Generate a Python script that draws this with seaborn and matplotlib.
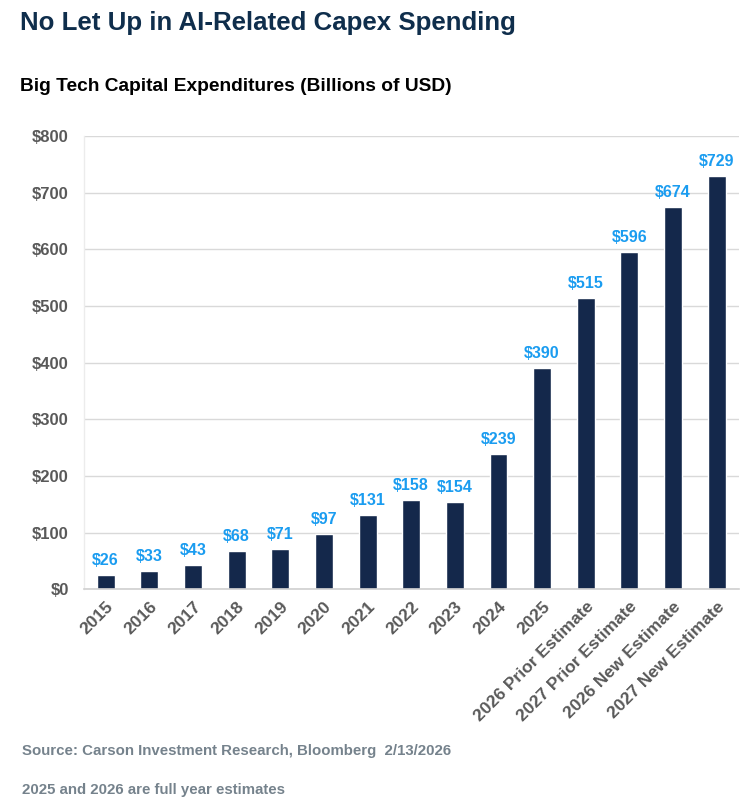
import matplotlib
matplotlib.use("Agg")
import matplotlib.pyplot as plt
import seaborn as sns
import pandas as pd

# Data
categories = ["2015", "2016", "2017", "2018", "2019", "2020", "2021", "2022",
              "2023", "2024", "2025", "2026 Prior Estimate", "2027 Prior Estimate",
              "2026 New Estimate", "2027 New Estimate"]
capex = [26, 33, 43, 68, 71, 97, 131, 158, 154, 239, 390, 515, 596, 674, 729]
y_ticks = [0, 100, 200, 300, 400, 500, 600, 700, 800]

BAR_COLOR = "#14284b"
LABEL_COLOR = "#1a9cf0"
TITLE_COLOR = "#0f2e4c"
TICK_COLOR = "#595959"
NOTE_COLOR = "#75828c"

sns.set_theme(style="white")
plt.rcParams['font.family'] = ['Liberation Sans', 'DejaVu Sans']

df = pd.DataFrame({"category": categories, "capex": capex})

fig = plt.figure(figsize=(7.49, 8.05), dpi=100)
ax = fig.add_axes([0.112, 0.268, 0.874, 0.563])

sns.barplot(data=df, x="category", y="capex", color=BAR_COLOR, width=0.41,
            saturation=1, ax=ax)

for i, v in enumerate(capex):
    ax.annotate(f"${v}", (i, v), xytext=(0, 5), textcoords="offset points",
                ha="center", va="bottom", fontsize=11.5, fontweight="bold",
                color=LABEL_COLOR)

ax.set_ylim(0, 800)
ax.set_xlim(-0.5, len(categories) - 0.5)
ax.set_yticks(y_ticks)
ax.set_yticklabels([f"${t}" for t in y_ticks])
ax.yaxis.grid(True, color="#d9d9d9", linewidth=1)
ax.set_axisbelow(True)
ax.set_xlabel("")
ax.set_ylabel("")

for side in ["top", "right"]:
    ax.spines[side].set_visible(False)
ax.spines["left"].set_color("#ececec")
ax.spines["bottom"].set_color("#d0d0d0")
ax.spines["left"].set_linewidth(1)
ax.spines["bottom"].set_linewidth(1.2)

ax.tick_params(axis="x", length=0, pad=7)
ax.tick_params(axis="y", length=0, pad=11)
for lbl in ax.get_yticklabels():
    lbl.set_fontsize(12)
    lbl.set_fontweight("bold")
    lbl.set_color(TICK_COLOR)
for lbl in ax.get_xticklabels():
    lbl.set_rotation(45)
    lbl.set_ha("right")
    lbl.set_rotation_mode("anchor")
    lbl.set_fontsize(12.6)
    lbl.set_fontweight("bold")
    lbl.set_color(TICK_COLOR)

fig.text(0.027, 0.972, "No Let Up in AI-Related Capex Spending", fontsize=18.6,
         fontweight="bold", color=TITLE_COLOR, va="center", ha="left")
fig.text(0.027, 0.892, "Big Tech Capital Expenditures (Billions of USD)", fontsize=13.8,
         fontweight="bold", color="black", va="center", ha="left")
fig.text(0.030, 0.067, "Source: Carson Investment Research, Bloomberg  2/13/2026",
         fontsize=10.8, fontweight="bold", color=NOTE_COLOR, va="center", ha="left")
fig.text(0.030, 0.019, "2025 and 2026 are full year estimates",
         fontsize=10.8, fontweight="bold", color=NOTE_COLOR, va="center", ha="left")

plt.savefig("out.png", dpi=100)
